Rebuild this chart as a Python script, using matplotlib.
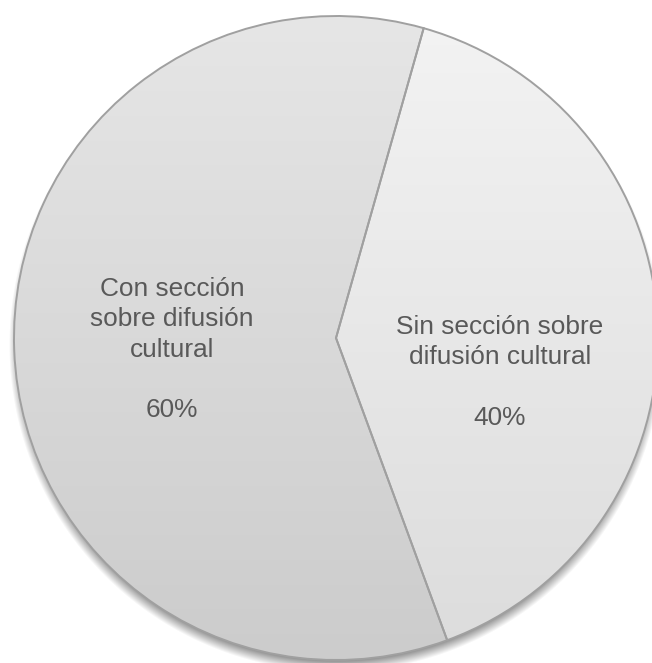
import numpy as np
import matplotlib.pyplot as plt
from matplotlib.colors import LinearSegmentedColormap

labels = ["Con sección\nsobre difusión\ncultural", "Sin sección sobre\ndifusión cultural"]
shares = [60, 40]

# vertical shading per slice (top, bottom)
shades = [("#e6e6e6", "#cccccc"), ("#f3f3f3", "#dcdcdc")]
label_pos = [(172, 277), (500, 315)]

W, H = 652, 663
cx, cy, r = 336, 325, 322

fig = plt.figure(figsize=(W / 100, H / 100), dpi=100)
ax = fig.add_axes([0, 0, 1, 1])

# soft drop shadow under the pie
yy, xx = np.mgrid[0:H, 0:W]
d = np.hypot(xx + 0.5 - cx, (H - yy - 0.5) - (cy - 7))
alpha = np.clip((r + 5 - d) / 12, 0, 1) * 0.45
shadow = np.zeros((H, W, 4))
shadow[..., 3] = alpha
ax.imshow(shadow, extent=(0, W, 0, H), zorder=0)

wedges, _ = ax.pie(shares, center=(cx, cy), radius=r, startangle=74.2,
                   counterclock=True, frame=True,
                   wedgeprops=dict(facecolor="none", edgecolor="#a0a0a0",
                                   linewidth=1.4, zorder=3))

grad = np.linspace(0, 1, 256).reshape(-1, 1)
for w, (top, bottom) in zip(wedges, shades):
    cmap = LinearSegmentedColormap.from_list("s", [top, bottom])
    im = ax.imshow(grad, cmap=cmap, aspect="auto",
                   extent=(cx - r, cx + r, cy - r, cy + r), zorder=1)
    im.set_clip_path(w)

for lab, v, (x, y) in zip(labels, shares, label_pos):
    ax.text(x, H - y, f"{lab}\n\n{v}%", ha="center", va="top",
            fontsize=18.9, color="#595959", family="Liberation Sans",
            linespacing=1.33, zorder=4)

ax.set_xlim(0, W)
ax.set_ylim(0, H)
ax.axis("off")

fig.savefig("out.png", dpi=100, facecolor="white")
